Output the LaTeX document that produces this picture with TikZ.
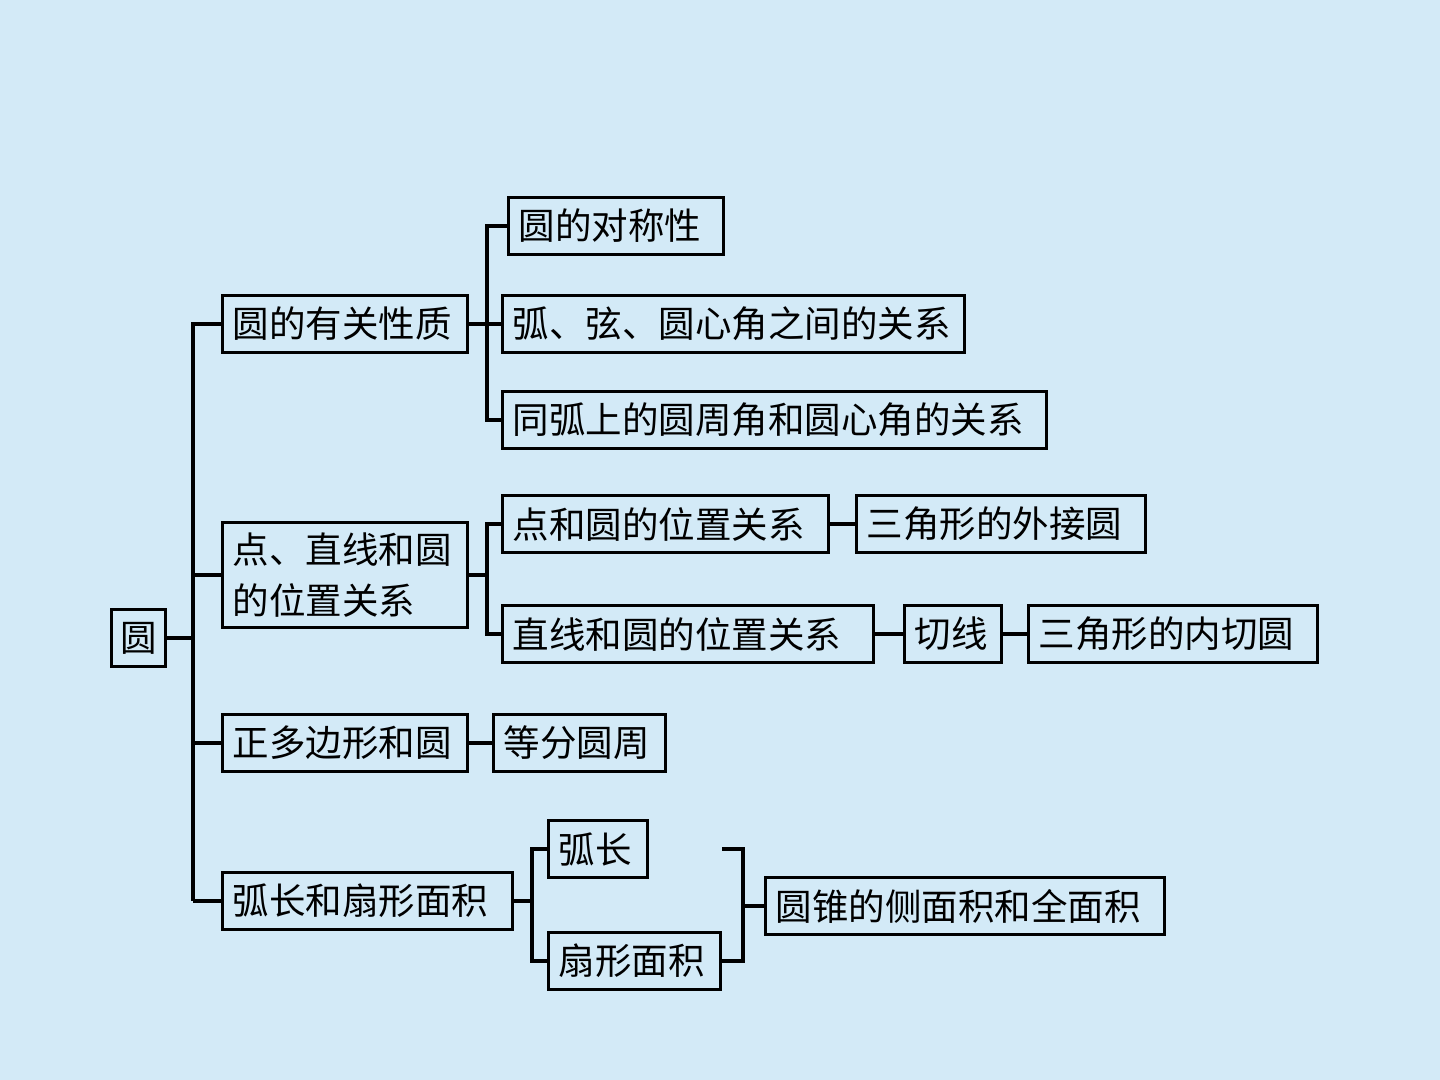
\documentclass[tikz,border=0pt]{standalone}
\usepackage{fontspec}
\newfontfamily\cjk{Noto Sans CJK SC}
\usepackage{xcolor}
\definecolor{bgblue}{RGB}{211,234,247}
\usetikzlibrary{positioning}

\begin{document}
\begin{tikzpicture}[x=0.5pt,y=-0.5pt,
        box/.style={draw,line width=1.5pt,anchor=west,align=left,inner xsep=5pt,inner ysep=0pt,minimum height=28.5pt,font=\cjk\fontsize{18.25}{25.5}\selectfont},
        link/.style={line width=2.2pt}]
            \fill [bgblue] (0,0) rectangle (1440,1080);
            \node [box,inner xsep=4.4pt,text width=18.25pt] (root) at (110,638) {圆};
            \node [box,text width=112.5pt] (P1) at (221,324) {圆的有关性质};
            \node [box,text width=112.5pt,minimum height=52.5pt] (P2) at (221,575) {点、直线和圆\\的位置关系};
            \node [box,text width=112.5pt] (P3) at (221,743) {正多边形和圆};
            \node [box,text width=135pt] (P4) at (221,901) {弧长和扇形面积};
            \node [box,text width=97.5pt] (Q1) at (507,226) {圆的对称性};
            \node [box,text width=221pt] (Q2) at (501,324) {弧、弦、圆心角之间的关系};
            \node [box,text width=262pt] (Q3) at (501,420) {同弧上的圆周角和圆心角的关系};
            \node [box,text width=153pt] (Q4) at (501,524) {点和圆的位置关系};
            \node [box,text width=134.5pt] (Q5) at (855,524) {三角形的外接圆};
            \node [box,text width=175.5pt] (Q6) at (501,634) {直线和圆的位置关系};
            \node [box,text width=38.5pt] (Q7) at (903,634) {切线};
            \node [box,text width=134.5pt] (Q8) at (1027,634) {三角形的内切圆};
            \node [box,text width=76pt] (Q9) at (492,743) {等分圆周};
            \node [box,text width=39.5pt] (Q10) at (547,849) {弧长};
            \node [box,text width=76pt] (Q11) at (547,961) {扇形面积};
            \node [box,text width=189.5pt] (R) at (764,906) {圆锥的侧面积和全面积};

            \draw [link] (P1.west) -- ++(-28,0) coordinate (a1) -- (a1 |- P4.west);
            \draw [link] (root.east) -- (root.east -| a1);
            \foreach \n in {P2,P3,P4}
                \draw [link] (\n.west) -- (\n.west -| a1);

            \draw [link] (P1.east) -- (Q2.west);
            \path (P1.east) ++(18,0) coordinate (b1);
            \draw [link] (Q1.west) -- (Q1.west -| b1) -- (Q3.west -| b1) -- (Q3.west);

            \draw [link] (P2.east) -- ++(18,0) coordinate (b2);
            \draw [link] (Q4.west) -- (Q4.west -| b2) -- (Q6.west -| b2) -- (Q6.west);
            \draw [link] (Q4.east) -- (Q5.west);
            \draw [link] (Q6.east) -- (Q7.west);
            \draw [link] (Q7.east) -- (Q8.west);

            \draw [link] (P3.east) -- (Q9.west);

            \draw [link] (P4.east) -- ++(18,0) coordinate (b4);
            \draw [link] (Q10.west) -- (Q10.west -| b4) -- (Q11.west -| b4) -- (Q11.west);
            \coordinate (c1) at (Q10.east -| Q11.east);
            \draw [link] (c1) -- ++(21,0) coordinate (b5) -- (b5 |- Q11.east) -- (Q11.east);
            \draw [link] (b5 |- R.west) -- (R.west);
        \end{tikzpicture}
\end{document}
